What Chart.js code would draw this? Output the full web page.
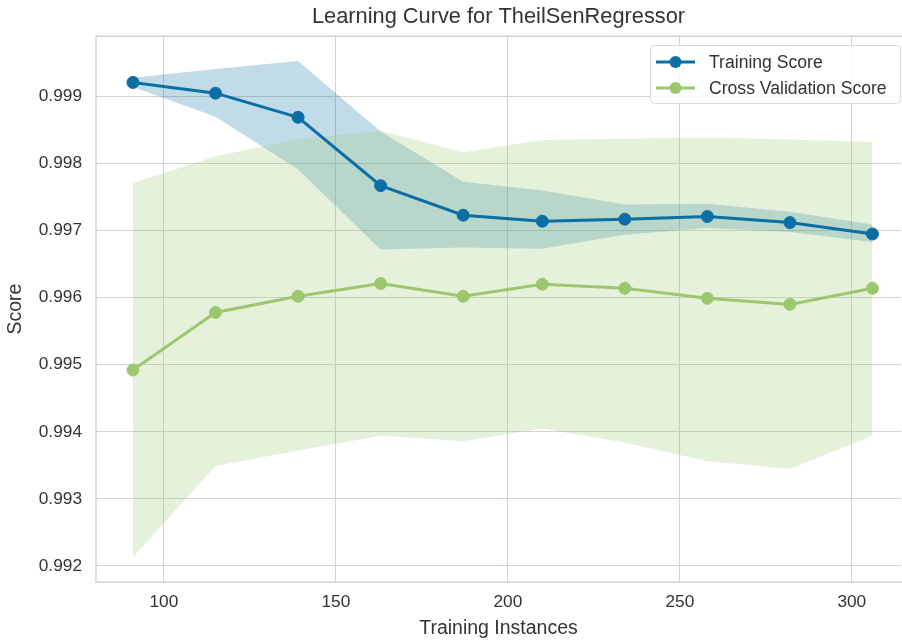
<!DOCTYPE html>
<html>
<head>
<meta charset="utf-8">
<script src="https://cdn.jsdelivr.net/npm/chart.js@4.4.0/dist/chart.umd.min.js"></script>
<style>
  html, body { margin: 0; padding: 0; background: #ffffff; }
  #wrap { width: 902px; height: 640px; }
</style>
</head>
<body>
<div id="wrap"><canvas id="c" width="902" height="640"></canvas></div>
<script>
// Learning curve data: training set sizes and scores
const trainSizes = [91, 115, 139, 163, 187, 210, 234, 258, 282, 306];

const trainMean  = [0.99921, 0.99905, 0.99869, 0.99767, 0.99723, 0.99714, 0.99717, 0.99721, 0.99712, 0.99695];
const trainUpper = [0.99928, 0.99941, 0.99953, 0.99848, 0.99773, 0.99760, 0.99739, 0.99740, 0.99728, 0.99709];
const trainLower = [0.99914, 0.99870, 0.99791, 0.99672, 0.99675, 0.99673, 0.99694, 0.99704, 0.99698, 0.99683];

const cvMean  = [0.99492, 0.99578, 0.99602, 0.99621, 0.99602, 0.99620, 0.99614, 0.99599, 0.99590, 0.99614];
const cvUpper = [0.99771, 0.99811, 0.99836, 0.99849, 0.99817, 0.99835, 0.99837, 0.99839, 0.99836, 0.99832];
const cvLower = [0.99213, 0.99349, 0.99372, 0.99394, 0.99386, 0.99405, 0.99384, 0.99356, 0.99345, 0.99394];

const xTickValues = [100, 150, 200, 250, 300];
const yTickValues = [0.992, 0.993, 0.994, 0.995, 0.996, 0.997, 0.998, 0.999];

const seriesNames = ['Training Score', 'Cross Validation Score'];

const BLUE = '#0b6fa6';
const GREEN = '#9cc76f';
const BLUE_FILL = 'rgba(11,111,166,0.25)';
const GREEN_FILL = 'rgba(156,199,111,0.25)';
const FONT = '"Liberation Sans", Arial, sans-serif';
const TEXT = '#333333';
const GRID = '#d2d2d2';

const pts = (ys) => trainSizes.map((x, i) => ({ x: x, y: ys[i] }));

const lineStyle = (color) => ({
  borderColor: color,
  backgroundColor: color,
  borderWidth: 3,
  pointRadius: 6,
  pointHoverRadius: 6,
  pointBackgroundColor: color,
  pointBorderColor: color,
  pointBorderWidth: 1,
  tension: 0,
  fill: false
});

const bandEdge = {
  borderWidth: 0,
  pointRadius: 0,
  pointHoverRadius: 0,
  borderColor: 'rgba(0,0,0,0)',
  tension: 0
};

// Axes frame drawn over the fills and lines (open on the right edge)
const framePlugin = {
  id: 'frame',
  afterDatasetsDraw(chart) {
    const { ctx, chartArea: a } = chart;
    ctx.save();
    ctx.strokeStyle = '#cccccc';
    ctx.lineWidth = 1.25;
    ctx.beginPath();
    ctx.moveTo(a.right + 2, a.top);
    ctx.lineTo(a.left, a.top);
    ctx.lineTo(a.left, a.bottom);
    ctx.lineTo(a.right + 2, a.bottom);
    ctx.stroke();
    ctx.restore();
  }
};

// Legend box in the upper right of the plot
const legendPlugin = {
  id: 'boxLegend',
  afterDraw(chart) {
    const { ctx } = chart;
    const colors = [BLUE, GREEN];
    const x0 = 650, y0 = 45, w = 250, h = 58;
    ctx.save();
    ctx.beginPath();
    ctx.roundRect(x0 + 0.5, y0 + 0.5, w, h, 4);
    ctx.fillStyle = 'rgba(255,255,255,0.8)';
    ctx.fill();
    ctx.strokeStyle = 'rgba(215,215,215,0.9)';
    ctx.lineWidth = 1;
    ctx.stroke();
    ctx.font = '17.6px ' + FONT;
    ctx.textBaseline = 'middle';
    ctx.fillStyle = TEXT;
    seriesNames.forEach((name, i) => {
      const cy = 62 + i * 26;
      ctx.strokeStyle = colors[i];
      ctx.lineWidth = 3;
      ctx.beginPath();
      ctx.moveTo(656, cy);
      ctx.lineTo(695, cy);
      ctx.stroke();
      ctx.beginPath();
      ctx.arc(675.5, cy, 6, 0, Math.PI * 2);
      ctx.fillStyle = colors[i];
      ctx.fill();
      ctx.fillStyle = TEXT;
      ctx.fillText(name, 709, cy + 1);
    });
    ctx.restore();
  }
};

new Chart(document.getElementById('c'), {
  type: 'line',
  data: {
    datasets: [
      Object.assign({ label: seriesNames[0], data: pts(trainMean) }, lineStyle(BLUE)),
      Object.assign({ label: seriesNames[1], data: pts(cvMean) }, lineStyle(GREEN)),
      Object.assign({ label: 'cv upper', data: pts(cvUpper), fill: false }, bandEdge),
      Object.assign({ label: 'cv lower', data: pts(cvLower), fill: '-1', backgroundColor: GREEN_FILL }, bandEdge),
      Object.assign({ label: 'train upper', data: pts(trainUpper), fill: false }, bandEdge),
      Object.assign({ label: 'train lower', data: pts(trainLower), fill: '-1', backgroundColor: BLUE_FILL }, bandEdge)
    ]
  },
  options: {
    responsive: false,
    animation: false,
    devicePixelRatio: 1,
    layout: { autoPadding: false, padding: { top: 0, left: 0, right: 1, bottom: 0 } },
    plugins: {
      legend: { display: false },
      tooltip: { enabled: false },
      filler: { drawTime: 'beforeDatasetsDraw', propagate: false },
      title: {
        display: true,
        fullSize: false,
        text: 'Learning Curve for TheilSenRegressor',
        color: TEXT,
        font: { family: FONT, size: 21.8, weight: 'normal' },
        padding: { top: 4, bottom: 6 }
      }
    },
    scales: {
      x: {
        type: 'linear',
        min: 80.25,
        max: 314.3,
        afterBuildTicks: (s) => { s.ticks = xTickValues.map(v => ({ value: v })); },
        afterFit: (s) => { s.height = 58; s.paddingLeft = 0; s.paddingRight = 0; },
        ticks: {
          color: TEXT,
          font: { family: FONT, size: 17.3 },
          padding: 10,
          maxRotation: 0,
          callback: (v) => String(v)
        },
        grid: { color: GRID, lineWidth: 1, drawTicks: false },
        border: { display: false },
        title: {
          display: true,
          text: 'Training Instances',
          color: TEXT,
          font: { family: FONT, size: 19.5 },
          padding: { top: 0, bottom: 0 }
        }
      },
      y: {
        type: 'linear',
        min: 0.99176,
        max: 0.99990,
        afterBuildTicks: (s) => { s.ticks = yTickValues.map(v => ({ value: v })); },
        afterFit: (s) => { s.width = 96; s.paddingTop = 0; s.paddingBottom = 0; },
        ticks: {
          color: TEXT,
          font: { family: FONT, size: 17.3 },
          padding: 14,
          callback: (v) => Number(v).toFixed(3)
        },
        grid: { color: GRID, lineWidth: 1, drawTicks: false },
        border: { display: false },
        title: {
          display: true,
          text: 'Score',
          color: TEXT,
          font: { family: FONT, size: 19.5 },
          padding: { top: 4, bottom: 0 }
        }
      }
    }
  },
  plugins: [framePlugin, legendPlugin]
});
</script>
</body>
</html>
